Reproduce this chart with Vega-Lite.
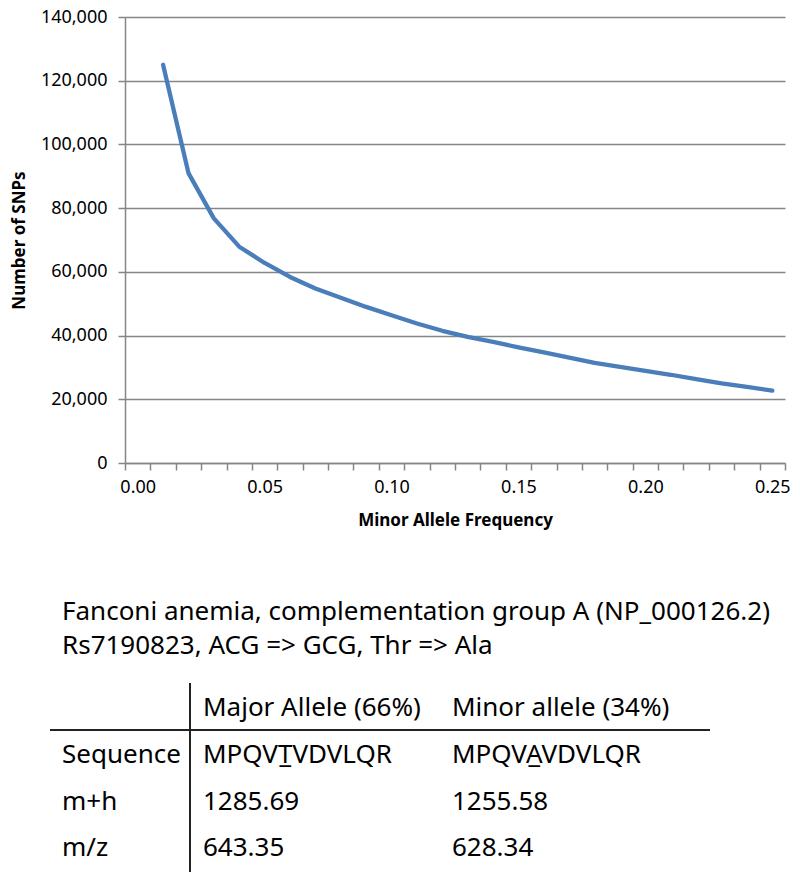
{
  "$schema": "https://vega.github.io/schema/vega-lite/v6.json",
  "width": 660,
  "height": 446,
  "autosize": {"type": "none"},
  "padding": {"left": 125, "top": 17, "right": 15, "bottom": 419},
  "background": "white",
  "config": {
    "view": {"stroke": null},
    "font": "Noto Sans",
    "axis": {"labelFont": "Noto Sans", "titleFont": "Noto Sans"}
  },
  "datasets": {
    "snps": [
      {"maf": 0.01, "snps": 125000},
      {"maf": 0.02, "snps": 91000},
      {"maf": 0.03, "snps": 76800},
      {"maf": 0.04, "snps": 67900},
      {"maf": 0.05, "snps": 62800},
      {"maf": 0.06, "snps": 58400},
      {"maf": 0.07, "snps": 54800},
      {"maf": 0.08, "snps": 51900},
      {"maf": 0.09, "snps": 49000},
      {"maf": 0.10, "snps": 46400},
      {"maf": 0.11, "snps": 43800},
      {"maf": 0.12, "snps": 41500},
      {"maf": 0.13, "snps": 39600},
      {"maf": 0.14, "snps": 38000},
      {"maf": 0.15, "snps": 36300},
      {"maf": 0.16, "snps": 34700},
      {"maf": 0.17, "snps": 33100},
      {"maf": 0.18, "snps": 31400},
      {"maf": 0.19, "snps": 30200},
      {"maf": 0.20, "snps": 28900},
      {"maf": 0.21, "snps": 27700},
      {"maf": 0.22, "snps": 26300},
      {"maf": 0.23, "snps": 25000},
      {"maf": 0.24, "snps": 23900},
      {"maf": 0.25, "snps": 22700}
    ],
    "cells": [
      {"row": 0, "col": 0, "text": "Fanconi anemia, complementation group A (NP_000126.2)"},
      {"row": 1, "col": 0, "text": "Rs7190823, ACG => GCG, Thr => Ala"},
      {"row": 2, "col": 1, "text": "Major Allele (66%)"},
      {"row": 2, "col": 2, "text": "Minor allele (34%)"},
      {"row": 3, "col": 0, "text": "Sequence"},
      {"row": 3, "col": 1, "text": "MPQVT\u0332VDVLQR"},
      {"row": 3, "col": 2, "text": "MPQVA\u0332VDVLQR"},
      {"row": 4, "col": 0, "text": "m+h"},
      {"row": 4, "col": 1, "text": "1285.69"},
      {"row": 4, "col": 2, "text": "1255.58"},
      {"row": 5, "col": 0, "text": "m/z"},
      {"row": 5, "col": 1, "text": "643.35"},
      {"row": 5, "col": 2, "text": "628.34"}
    ],
    "lines": [
      {"row": 2.5, "row2": 2.5, "col": -1, "col2": 3},
      {"row": 1.5, "row2": 5.5, "col": 0.5, "col2": 0.5}
    ]
  },
  "layer": [
    {
      "data": {"name": "snps"},
      "mark": {"type": "line", "color": "#4A7EBB", "strokeWidth": 4.3, "strokeCap": "round", "strokeJoin": "round"},
      "encoding": {
        "x": {
          "field": "maf",
          "type": "quantitative",
          "scale": {"domain": [-0.005, 0.255], "nice": false, "zero": false},
          "axis": {
            "title": "Minor Allele Frequency",
            "titleFontSize": 17,
            "titleFontWeight": "bold",
            "titleColor": "#000000",
            "titlePadding": 16,
            "values": [-0.005, 0.005, 0.015, 0.025, 0.035, 0.045, 0.055, 0.065, 0.075, 0.085, 0.095, 0.105, 0.115, 0.125, 0.135, 0.145, 0.155, 0.165, 0.175, 0.185, 0.195, 0.205, 0.215, 0.225, 0.235, 0.245, 0.255],
            "labelExpr": "round((datum.value + 0.005) * 100) % 5 === 0 && datum.value < 0.25 ? format(datum.value + 0.005, '.2f') : ''",
            "labelOffset": 12.7,
            "labelFlush": false,
            "labelOverlap": false,
            "labelBound": false,
            "labelFontSize": 18,
            "labelColor": "#000000",
            "labelPadding": 8,
            "grid": false,
            "domainColor": "#868686",
            "domainWidth": 1.5,
            "tickColor": "#868686",
            "tickWidth": 1.5,
            "tickSize": 7
          }
        },
        "y": {
          "field": "snps",
          "type": "quantitative",
          "scale": {"domain": [0, 140000], "nice": false},
          "axis": {
            "title": "Number of SNPs",
            "titleFontSize": 17,
            "titleFontWeight": "bold",
            "titleColor": "#000000",
            "titlePadding": 12,
            "values": [0, 20000, 40000, 60000, 80000, 100000, 120000, 140000],
            "format": ",.0f",
            "labelFontSize": 18,
            "labelColor": "#000000",
            "labelPadding": 11,
            "grid": true,
            "gridColor": "#868686",
            "gridWidth": 1.5,
            "domainColor": "#868686",
            "domainWidth": 1.5,
            "tickColor": "#868686",
            "tickWidth": 1.5,
            "tickSize": 7
          }
        }
      }
    },
    {
      "layer": [
        {
          "data": {"name": "lines"},
          "mark": {"type": "rule", "color": "#222222", "strokeWidth": 2},
          "encoding": {
            "x": {"field": "col", "type": "quantitative", "scale": {"domain": [-1, 0, 0.5, 1, 2, 3], "range": [-75, -63, 65, 78, 327, 585], "nice": false, "zero": false}, "axis": null},
            "x2": {"field": "col2"},
            "y": {"field": "row", "type": "quantitative", "scale": {"domain": [0, 1, 1.5, 2, 2.5, 3, 4, 5, 5.5], "range": [595, 629, 666, 691, 713, 738, 785, 831, 855], "nice": false, "zero": false}, "axis": null},
            "y2": {"field": "row2"}
          }
        },
        {
          "data": {"name": "cells"},
          "mark": {"type": "text", "align": "left", "baseline": "middle", "fontSize": 26, "color": "#000000", "font": "Noto Sans"},
          "encoding": {
            "x": {"field": "col", "type": "quantitative", "scale": {"domain": [-1, 0, 0.5, 1, 2, 3], "range": [-75, -63, 65, 78, 327, 585], "nice": false, "zero": false}, "axis": null},
            "y": {"field": "row", "type": "quantitative", "scale": {"domain": [0, 1, 1.5, 2, 2.5, 3, 4, 5, 5.5], "range": [595, 629, 666, 691, 713, 738, 785, 831, 855], "nice": false, "zero": false}, "axis": null},
            "text": {"field": "text"}
          }
        }
      ]
    }
  ],
  "resolve": {"scale": {"x": "independent", "y": "independent"}}
}
